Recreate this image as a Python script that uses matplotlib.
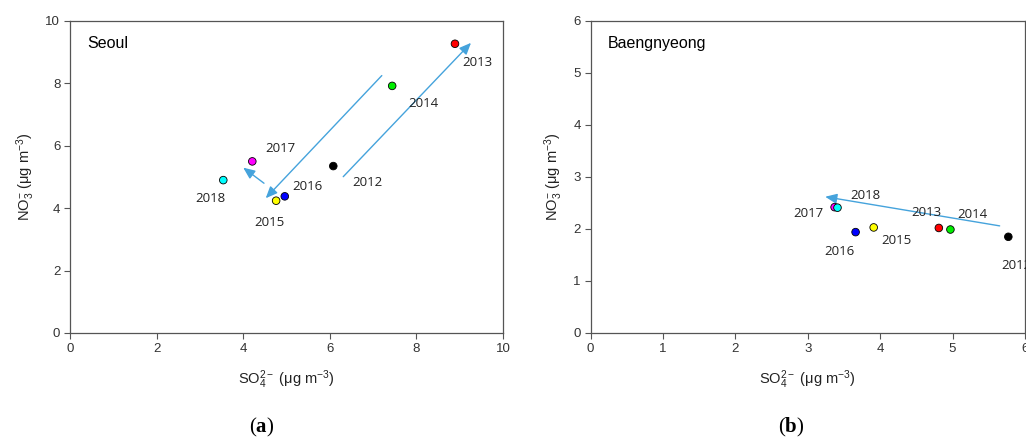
import numpy as np
import matplotlib
matplotlib.use('Agg')
import matplotlib.pyplot as plt

plt.rcParams['font.family'] = ['Liberation Sans', 'DejaVu Sans']
plt.rcParams['mathtext.fontset'] = 'custom'
plt.rcParams['mathtext.rm'] = 'Liberation Sans'
plt.rcParams['mathtext.it'] = 'Liberation Sans'
plt.rcParams['mathtext.bf'] = 'Liberation Serif:bold'

# ---------------------------------------------------------------------------
# data
years = ['2012', '2013', '2014', '2015', '2016', '2017', '2018']
colors = ['black', 'red', '#00ee00', 'yellow', 'blue', 'magenta', 'cyan']

seoul_so4 = [6.08, 8.89, 7.44, 4.76, 4.96, 4.21, 3.54]
seoul_no3 = [5.35, 9.27, 7.92, 4.24, 4.38, 5.50, 4.90]
seoul_lab_x = [6.87, 9.40, 8.16, 4.60, 5.48, 4.87, 3.24]
seoul_lab_y = [4.83, 8.66, 7.37, 3.55, 4.71, 5.90, 4.30]
# arrows: (x0, y0, x1, y1)
seoul_arrows = [(6.31, 5.01, 9.26, 9.30),
                (7.20, 8.25, 4.52, 4.32),
                (4.48, 4.80, 4.00, 5.30)]

baeng_so4 = [5.77, 4.81, 4.97, 3.91, 3.66, 3.37, 3.41]
baeng_no3 = [1.85, 2.02, 1.99, 2.03, 1.94, 2.42, 2.41]
baeng_lab_x = [5.88, 4.64, 5.28, 4.23, 3.43, 3.01, 3.80]
baeng_lab_y = [1.30, 2.31, 2.27, 1.78, 1.56, 2.29, 2.65]
baeng_arrows = [(5.65, 2.06, 3.24, 2.62)]

panels = [
    dict(x=seoul_so4, y=seoul_no3, lx=seoul_lab_x, ly=seoul_lab_y, arrows=seoul_arrows,
         name='Seoul', xmax=10, ymax=10, xticks=np.arange(0, 11, 2), yticks=np.arange(0, 11, 2),
         name_xy=(0.39, 9.27), tag='a', tag_x=0.2554,
         pos=[0.0682, 0.2449, 0.4221, 0.7075]),
    dict(x=baeng_so4, y=baeng_no3, lx=baeng_lab_x, ly=baeng_lab_y, arrows=baeng_arrows,
         name='Baengnyeong', xmax=6, ymax=6, xticks=np.arange(0, 7, 1), yticks=np.arange(0, 7, 1),
         name_xy=(0.235, 5.56), tag='b', tag_x=0.7716,
         pos=[0.5757, 0.2449, 0.4233, 0.7075]),
]

arrow_col = '#45a3dc'
spine_col = '#555555'

fig = plt.figure(figsize=(10.26, 4.41), dpi=100)

for p in panels:
    ax = fig.add_axes(p['pos'])
    ax.set_xlim(0, p['xmax'])
    ax.set_ylim(0, p['ymax'])
    ax.set_xticks(p['xticks'])
    ax.set_yticks(p['yticks'])
    ax.tick_params(direction='out', length=4, width=0.8, color=spine_col,
                   labelsize=9.5, labelcolor='#333333', pad=3)
    for s in ax.spines.values():
        s.set_color(spine_col)
        s.set_linewidth(0.9)

    for a in p['arrows']:
        ax.annotate('', xy=(a[2], a[3]), xytext=(a[0], a[1]),
                    arrowprops=dict(arrowstyle='-|>,head_length=0.7,head_width=0.3',
                                    color=arrow_col, lw=1.0, shrinkA=0, shrinkB=0))

    ax.scatter(p['x'], p['y'], s=30, c=colors, edgecolors='black', linewidths=0.6, zorder=3)

    for yr, tx, ty in zip(years, p['lx'], p['ly']):
        ax.text(tx, ty, yr, ha='center', va='center', fontsize=9.5,
                family=['Open Sans', 'DejaVu Sans'], color='#222222', clip_on=False)

    ax.text(p['name_xy'][0], p['name_xy'][1], p['name'], ha='left', va='center',
            fontsize=11.5, color='black')

    ax.set_xlabel(r'SO$_4^{2-}$ ($\mu$g m$^{-3}$)', fontsize=10.5, color='#222222', labelpad=10)
    ax.set_ylabel(r'NO$_3^{-}$ ($\mu$g m$^{-3}$)', fontsize=10.5, color='#222222', labelpad=6)

    fig.text(p['tag_x'], 0.03, '(' + r'$\mathbf{' + p['tag'] + '}$' + ')',
             ha='center', va='center', fontsize=15, family='Liberation Serif')

fig.savefig('out.png', dpi=100)
